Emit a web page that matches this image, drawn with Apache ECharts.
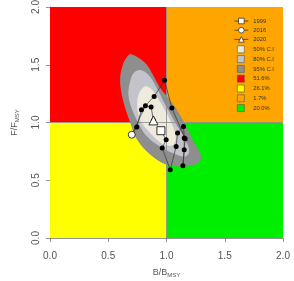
<!DOCTYPE html>
<html>
<head>
<meta charset="utf-8">
<script src="https://cdn.jsdelivr.net/npm/echarts@6/dist/echarts.min.js"></script>
<style>
	html, body { margin: 0; padding: 0; background: #fff; }
	#chart { width: 294px; height: 281px; }
</style>
</head>
<body>
<div id="chart"></div>
<script>
// trajectory B/Bmsy, F/Fmsy (1999 -> 2020)
var trajB = [0.952, 0.997, 0.963, 1.032, 1.083, 1.095, 1.146, 1.152, 1.152, 1.141, 1.160, 1.046, 0.983, 0.894, 0.785, 0.745, 0.702, 0.819, 0.868, 0.888];
var trajF = [0.929, 0.851, 0.779, 0.591, 0.793, 0.909, 0.966, 0.866, 0.765, 0.626, 0.860, 1.126, 1.365, 1.226, 1.111, 0.961, 0.894, 1.145, 1.134, 1.018];

var yearNames = ['1999', '2016', '2020'];
var yearB = [0.952, 0.702, 0.888];
var yearF = [0.929, 0.894, 1.018];
var yearSymbols = ['rect', 'circle', 'triangle'];
var yearSizes = [8, 7, 9];

// confidence region outlines (B/Bmsy, F/Fmsy)
var ci95B = [0.688, 0.760, 0.831, 0.890, 0.946, 1.060, 1.152, 1.232, 1.295, 1.284, 1.232, 1.118, 1.017, 0.917, 0.802, 0.731, 0.688, 0.645, 0.611, 0.602, 0.625, 0.659];
var ci95F = [1.590, 1.560, 1.500, 1.400, 1.299, 1.154, 1.001, 0.836, 0.721, 0.663, 0.635, 0.620, 0.629, 0.678, 0.779, 0.880, 1.001, 1.126, 1.269, 1.385, 1.500, 1.564];
var ci80B = [0.770, 0.845, 0.917, 0.989, 1.075, 1.161, 1.195, 1.160, 1.089, 0.946, 0.831, 0.755, 0.700, 0.673, 0.688, 0.720];
var ci80F = [1.455, 1.414, 1.299, 1.154, 1.001, 0.851, 0.750, 0.705, 0.720, 0.790, 0.880, 1.001, 1.126, 1.241, 1.356, 1.430];
var ci50B = [0.817, 0.870, 0.920, 0.990, 1.050, 1.080, 1.060, 1.000, 0.930, 0.850, 0.780, 0.750, 0.760];
var ci50F = [1.313, 1.290, 1.220, 1.100, 0.980, 0.870, 0.810, 0.800, 0.840, 0.920, 1.010, 1.120, 1.240];

var ciNames = ['95% C.I', '80% C.I', '50% C.I'];
var ciColors = ['#8e8e8e', '#c3c3cb', '#efebdc'];
var ciOutlineB = [ci95B, ci80B, ci50B];
var ciOutlineF = [ci95F, ci80F, ci50F];

// Kobe quadrants
var quadNames = ['51.6%', '26.1%', '1.7%', '20.0%'];
var quadColors = ['#ff0000', '#ffff00', '#ffa500', '#00ee00'];
var quadX0 = [0, 0, 1, 1];
var quadX1 = [1, 1, 2, 2];
var quadY0 = [1, 0, 1, 0];
var quadY1 = [2, 1, 2, 1];

var chart = echarts.init(document.getElementById('chart'));

function renderQuad(params, api) {
	var p0 = api.coord([api.value(0), api.value(3)]);
	var p1 = api.coord([api.value(1), api.value(2)]);
	return {
		type: 'rect',
		shape: { x: p0[0], y: p0[1], width: p1[0] - p0[0], height: p1[1] - p0[1] },
		style: { fill: api.visual('color') }
	};
}

// the whole outline is drawn once, on the first data item
function makeRegionRenderer(outline) {
	return function (params, api) {
		if (params.dataIndex !== 0) return;
		var pts = [];
		for (var k = 0; k < outline.length; k++) {
			pts.push(api.coord(outline[k]));
		}
		return {
			type: 'polygon',
			shape: { points: pts, smooth: 0.35 },
			style: { fill: api.visual('color') }
		};
	};
}

var series = [];
for (var i = 0; i < quadNames.length; i++) {
	series.push({
		name: quadNames[i],
		type: 'custom',
		renderItem: renderQuad,
		data: [[quadX0[i], quadX1[i], quadY0[i], quadY1[i]]],
		itemStyle: { color: quadColors[i] },
		silent: true,
		z: 1
	});
}
series[0].markLine = {
	silent: true,
	symbol: 'none',
	label: { show: false },
	lineStyle: { color: '#8a8a8a', width: 0.8, type: 'solid' },
	data: [{ xAxis: 1 }, { yAxis: 1 }]
};
for (var i = 0; i < ciNames.length; i++) {
	var outline = [];
	for (var k = 0; k < ciOutlineB[i].length; k++) {
		outline.push([ciOutlineB[i][k], ciOutlineF[i][k]]);
	}
	series.push({
		name: ciNames[i],
		type: 'custom',
		renderItem: makeRegionRenderer(outline),
		data: outline,
		itemStyle: { color: ciColors[i] },
		silent: true,
		z: 2 + i
	});
}

var traj = [];
for (var i = 0; i < trajB.length; i++) {
	traj.push([trajB[i], trajF[i]]);
}
series.push({
	name: 'traj',
	type: 'line',
	data: traj,
	symbol: 'circle',
	symbolSize: 5,
	itemStyle: { color: '#000' },
	lineStyle: { color: '#333', width: 0.7 },
	z: 6
});
var yearLegend = [];
for (var i = 0; i < yearNames.length; i++) {
	series.push({
		name: yearNames[i],
		type: 'line',
		data: [[yearB[i], yearF[i]]],
		symbol: yearSymbols[i],
		symbolSize: yearSizes[i],
		itemStyle: { color: '#fff', borderColor: '#000', borderWidth: 0.8 },
		lineStyle: { color: '#000', width: 0.8 },
		z: 7
	});
	yearLegend.push({
		name: yearNames[i],
		itemStyle: { color: '#fff', borderColor: '#222', borderWidth: 0.7 },
		lineStyle: { color: '#222', width: 0.7 }
	});
}

var tickLabel = function (v) { return v.toFixed(1); };

var option = {
	animation: false,
	textStyle: { fontFamily: 'Liberation Sans' },
	grid: { left: 50, right: 11, top: 7, bottom: 43, outerBoundsMode: 'none' },
	legend: [{
		orient: 'vertical',
		left: 229,
		top: 12.5,
		itemWidth: 14,
		itemHeight: 7,
		itemGap: 2.2,
		data: yearLegend,
		textStyle: { fontSize: 5.8, color: '#333', lineHeight: 7 },
		selectedMode: false
	}, {
		orient: 'vertical',
		left: 232,
		top: 40.5,
		itemWidth: 7,
		itemHeight: 7,
		itemGap: 2.2,
		icon: 'rect',
		itemStyle: { borderColor: '#555', borderWidth: 0.6 },
		data: ['50% C.I', '80% C.I', '95% C.I'].concat(quadNames),
		textStyle: { fontSize: 5.8, color: '#333', lineHeight: 7, padding: [0, 0, 0, 4] },
		selectedMode: false
	}],
	xAxis: {
		type: 'value',
		min: 0,
		max: 2,
		interval: 0.5,
		name: '{a|B/B}{s|MSY}',
		nameLocation: 'middle',
		nameGap: 29,
		nameTextStyle: {
			rich: {
				a: { fontSize: 9, color: '#555' },
				s: { fontSize: 6, color: '#555', padding: [5, 0, 0, 0] }
			}
		},
		axisLine: { show: true, onZero: false, lineStyle: { color: '#777', width: 0.8 } },
		axisTick: { show: true, length: 4, lineStyle: { color: '#777', width: 0.8 } },
		axisLabel: { formatter: tickLabel, fontSize: 10, color: '#555', margin: 13 },
		splitLine: { show: false }
	},
	yAxis: {
		type: 'value',
		min: 0,
		max: 2,
		interval: 0.5,
		name: '{a|F/F}{s|MSY}',
		nameLocation: 'middle',
		nameGap: 30,
		nameTextStyle: {
			rich: {
				a: { fontSize: 9, color: '#555' },
				s: { fontSize: 6, color: '#555', padding: [5, 0, 0, 0] }
			}
		},
		axisLine: { show: true, onZero: false, lineStyle: { color: '#777', width: 0.8 } },
		axisTick: { show: true, length: 4, lineStyle: { color: '#777', width: 0.8 } },
		axisLabel: { formatter: tickLabel, fontSize: 10, color: '#555', rotate: 90, margin: 9 },
		splitLine: { show: false }
	},
	series: series
};
chart.setOption(option);
</script>
</body>
</html>
